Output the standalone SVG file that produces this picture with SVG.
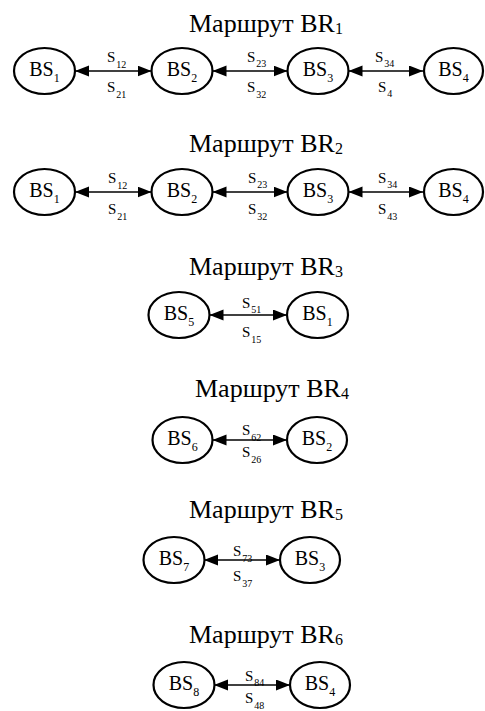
<svg xmlns="http://www.w3.org/2000/svg" width="485" height="711" viewBox="0 0 485 711">
<style>
.t{font-family:"Liberation Serif","Times New Roman",serif;font-size:26px;fill:#000}
.n ellipse{fill:#fff;stroke:#000;stroke-width:2.2}
.n text{font-family:"Liberation Serif","Times New Roman",serif;font-size:20px;fill:#000;text-anchor:middle}
.l{font-family:"Liberation Serif","Times New Roman",serif;font-size:15px;fill:#000}
.s{font-size:10px}
.c line{stroke:#000;stroke-width:1.3;marker-start:url(#a);marker-end:url(#a)}
</style>
<defs>
<marker id="a" markerUnits="userSpaceOnUse" markerWidth="15" markerHeight="12" refX="14" refY="5.5" orient="auto-start-reverse">
<path d="M0,0 L14,5.5 L0,11 z" fill="#000"/>
</marker>
</defs>
<rect width="485" height="711" fill="#fff"/>
<g id="titles">
<text class="t" x="189" y="32">Маршрут BR<tspan font-size="16" dy="2">1</tspan></text>
<text class="t" x="189" y="152">Маршрут BR<tspan font-size="16" dy="2">2</tspan></text>
<text class="t" x="189" y="275">Маршрут BR<tspan font-size="16" dy="2">3</tspan></text>
<text class="t" x="195" y="397">Маршрут BR<tspan font-size="16" dy="2">4</tspan></text>
<text class="t" x="189" y="518">Маршрут BR<tspan font-size="16" dy="2">5</tspan></text>
<text class="t" x="189" y="643">Маршрут BR<tspan font-size="16" dy="2">6</tspan></text>
</g>
<g id="labels">
<text class="l" x="107" y="62">S<tspan class="s" dx="1" dy="6">12</tspan></text>
<text class="l" x="107" y="92">S<tspan class="s" dx="1" dy="6">21</tspan></text>
<text class="l" x="247" y="62">S<tspan class="s" dx="1" dy="5">23</tspan></text>
<text class="l" x="247" y="92">S<tspan class="s" dx="1" dy="6">32</tspan></text>
<text class="l" x="375" y="62">S<tspan class="s" dx="1" dy="5">34</tspan></text>
<text class="l" x="378" y="92">S<tspan class="s" dx="1" dy="5">4</tspan></text>
<text class="l" x="108" y="183">S<tspan class="s" dx="1" dy="6">12</tspan></text>
<text class="l" x="108" y="214">S<tspan class="s" dx="1" dy="6">21</tspan></text>
<text class="l" x="248" y="183">S<tspan class="s" dx="1" dy="5">23</tspan></text>
<text class="l" x="248" y="214">S<tspan class="s" dx="1" dy="6">32</tspan></text>
<text class="l" x="378" y="183">S<tspan class="s" dx="1" dy="5">34</tspan></text>
<text class="l" x="378" y="214">S<tspan class="s" dx="1" dy="6">43</tspan></text>
<text class="l" x="242" y="308">S<tspan class="s" dx="1" dy="5">51</tspan></text>
<text class="l" x="242" y="337">S<tspan class="s" dx="1" dy="6">15</tspan></text>
<text class="l" x="242" y="435">S<tspan class="s" dx="1" dy="6">62</tspan></text>
<text class="l" x="242" y="457">S<tspan class="s" dx="1" dy="6">26</tspan></text>
<text class="l" x="233" y="556">S<tspan class="s" dx="1" dy="6">73</tspan></text>
<text class="l" x="233" y="581">S<tspan class="s" dx="1" dy="6">37</tspan></text>
<text class="l" x="245" y="681">S<tspan class="s" dx="1" dy="5">84</tspan></text>
<text class="l" x="245" y="703">S<tspan class="s" dx="1" dy="6">48</tspan></text>
</g>
<g id="connectors" class="c">
<line x1="75" y1="71" x2="151.5" y2="71"/>
<line x1="212.5" y1="71" x2="287.5" y2="71"/>
<line x1="348.5" y1="71" x2="423" y2="71"/>
<line x1="75" y1="192" x2="151.5" y2="192"/>
<line x1="212.5" y1="192" x2="287.5" y2="192"/>
<line x1="348.5" y1="192" x2="423" y2="192"/>
<line x1="209.5" y1="315" x2="287" y2="315"/>
<line x1="212.5" y1="440" x2="287" y2="440"/>
<line x1="204" y1="560" x2="280" y2="560"/>
<line x1="214" y1="685" x2="290" y2="685"/>
</g>
<g id="BR1_BS1" class="n"><ellipse cx="44.5" cy="71" rx="30.5" ry="23"/><text x="44.5" y="76">BS<tspan font-size="12" dy="6">1</tspan></text></g>
<g id="BR1_BS2" class="n"><ellipse cx="182" cy="71" rx="30.5" ry="23"/><text x="182" y="76">BS<tspan font-size="12" dy="6">2</tspan></text></g>
<g id="BR1_BS3" class="n"><ellipse cx="318" cy="71" rx="30.5" ry="23"/><text x="318" y="76">BS<tspan font-size="12" dy="6">3</tspan></text></g>
<g id="BR1_BS4" class="n"><ellipse cx="453.5" cy="71" rx="29.5" ry="23"/><text x="453.5" y="76">BS<tspan font-size="12" dy="6">4</tspan></text></g>
<g id="BR2_BS1" class="n"><ellipse cx="44.5" cy="192" rx="30.5" ry="23"/><text x="44.5" y="197">BS<tspan font-size="12" dy="6">1</tspan></text></g>
<g id="BR2_BS2" class="n"><ellipse cx="182" cy="192" rx="30.5" ry="23"/><text x="182" y="197">BS<tspan font-size="12" dy="6">2</tspan></text></g>
<g id="BR2_BS3" class="n"><ellipse cx="318" cy="192" rx="30.5" ry="23"/><text x="318" y="197">BS<tspan font-size="12" dy="6">3</tspan></text></g>
<g id="BR2_BS4" class="n"><ellipse cx="453.5" cy="192" rx="29.5" ry="23"/><text x="453.5" y="197">BS<tspan font-size="12" dy="6">4</tspan></text></g>
<g id="BR3_BS5" class="n"><ellipse cx="179" cy="315" rx="30.5" ry="23"/><text x="179" y="320">BS<tspan font-size="12" dy="6">5</tspan></text></g>
<g id="BR3_BS1" class="n"><ellipse cx="317.5" cy="315" rx="30.5" ry="23"/><text x="317.5" y="320">BS<tspan font-size="12" dy="6">1</tspan></text></g>
<g id="BR4_BS6" class="n"><ellipse cx="182.5" cy="440" rx="30" ry="23"/><text x="182.5" y="445">BS<tspan font-size="12" dy="6">6</tspan></text></g>
<g id="BR4_BS2" class="n"><ellipse cx="317" cy="440" rx="30" ry="23"/><text x="317" y="445">BS<tspan font-size="12" dy="6">2</tspan></text></g>
<g id="BR5_BS7" class="n"><ellipse cx="174" cy="560" rx="30.5" ry="23"/><text x="174" y="565">BS<tspan font-size="12" dy="6">7</tspan></text></g>
<g id="BR5_BS3" class="n"><ellipse cx="310" cy="560" rx="30" ry="23"/><text x="310" y="565">BS<tspan font-size="12" dy="6">3</tspan></text></g>
<g id="BR6_BS8" class="n"><ellipse cx="184" cy="685" rx="30.5" ry="23"/><text x="184" y="690">BS<tspan font-size="12" dy="6">8</tspan></text></g>
<g id="BR6_BS4" class="n"><ellipse cx="320" cy="685" rx="30" ry="23"/><text x="320" y="690">BS<tspan font-size="12" dy="6">4</tspan></text></g>
</svg>
